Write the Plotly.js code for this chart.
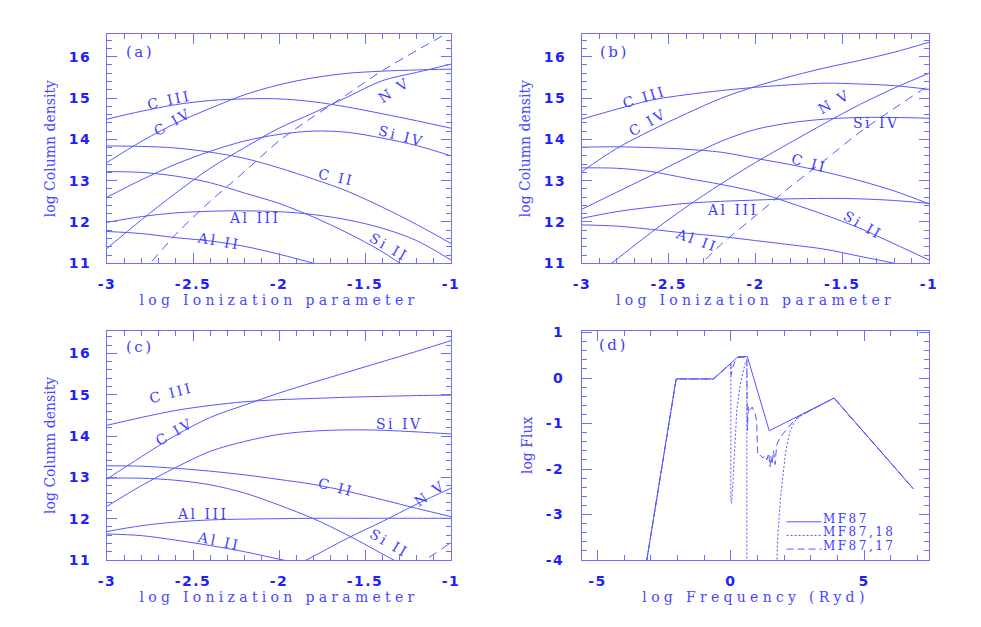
<!DOCTYPE html>
<html><head><meta charset="utf-8">
<script src="https://cdn.plot.ly/plotly-3.0.1.min.js"></script>
<style>
html,body{margin:0;padding:0;background:#fff}
#chart{width:981px;height:627px}
.xaxislayer-above text,.yaxislayer-above text{letter-spacing:1.5px}
text.xtitle,text.x2title,text.x3title,text.x4title{letter-spacing:4.3px}
.annotation-text{letter-spacing:2.5px}
</style></head><body><div id="chart"></div><script>
// ---------- data ----------
const logU = [-3,-2.8,-2.6,-2.4,-2.2,-2,-1.8,-1.6,-1.4,-1.2,-1];

// panel (a)
const a_CIII  = [14.49,14.68,14.84,14.94,14.98,14.98,14.91,14.78,14.62,14.45,14.27];
const a_CIV   = [13.44,13.95,14.39,14.75,15.08,15.32,15.49,15.60,15.65,15.68,15.70];
const a_NV    = [11.36,12.05,12.70,13.30,13.80,14.27,14.64,15.03,15.42,15.62,15.82];
const a_SiIV  = [12.60,13.02,13.40,13.71,13.96,14.12,14.20,14.17,14.03,13.85,13.60];
const a_CII   = [13.84,13.83,13.79,13.69,13.54,13.31,13.04,12.74,12.36,11.94,11.48];
const a_SiII  = [13.22,13.20,13.11,12.95,12.70,12.45,12.12,11.73,11.28,10.72,null];
const a_AlIII = [11.99,12.13,12.22,12.26,12.27,12.25,12.18,12.05,11.85,11.55,11.08];
const a_AlII  = [11.77,11.72,11.62,11.54,11.41,11.22,11.00,10.75,null,null,null];
const a_dashU = [-2.8,-2.75,-2.6,-2.4,-2.2,-2,-1.8,-1.6,-1.4,-1.2,-1];
const a_dashN = [10.8,11.0,11.7,12.5,13.22,13.96,14.55,15.1,15.66,16.15,16.62];

// panel (b)
const b_CIII  = [14.49,14.73,14.95,15.08,15.18,15.26,15.32,15.36,15.34,15.30,15.21];
const b_CIV   = [13.22,13.78,14.22,14.62,14.99,15.28,15.52,15.73,15.91,16.11,16.35];
const b_NVU   = [-2.9,-2.83,-2.6,-2.4,-2.2,-2,-1.8,-1.6,-1.4,-1.2,-1];
const b_NV    = [10.78,11.0,11.75,12.36,12.92,13.44,13.92,14.39,14.84,15.24,15.6];
const b_SiIV  = [12.31,12.72,13.13,13.55,13.95,14.24,14.40,14.49,14.53,14.53,14.51];
const b_CII   = [13.81,13.82,13.80,13.76,13.69,13.54,13.39,13.21,13.00,12.75,12.44];
const b_SiII  = [13.31,13.30,13.22,13.06,12.91,12.73,12.46,12.17,11.85,11.47,11.08];
const b_AlIII = [12.09,12.25,12.36,12.45,12.50,12.53,12.56,12.57,12.56,12.52,12.45];
const b_AlII  = [11.93,11.90,11.82,11.73,11.65,11.55,11.45,11.34,11.17,11.00,10.80];
const b_dashU = [-2.35,-2.31,-2.2,-2,-1.8,-1.6,-1.4,-1.2,-1];
const b_dashN = [10.85,11.0,11.45,12.15,12.85,13.5,14.17,14.75,15.31];

// panel (c)
const c_CIII  = [14.26,14.45,14.62,14.74,14.83,14.88,14.91,14.94,14.96,14.98,14.99];
const c_CIV   = [12.96,13.50,14.02,14.45,14.75,15.04,15.30,15.55,15.80,16.05,16.31];
const c_SiIV  = [12.30,12.80,13.24,13.63,13.87,14.04,14.12,14.15,14.14,14.10,14.05];
const c_CII   = [13.28,13.27,13.22,13.15,13.06,12.95,12.83,12.66,12.46,12.25,12.05];
const c_SiII  = [12.98,12.98,12.93,12.82,12.62,12.33,12.00,11.60,11.15,10.70,null];
const c_AlIII = [11.69,11.83,11.92,11.97,11.99,12.00,12.01,12.01,12.01,12.01,12.01];
const c_AlII  = [11.63,11.59,11.48,11.35,11.20,11.02,10.85,null,null,null,null];
const c_NVU   = [-1.9,-1.84,-1.6,-1.4,-1.2,-1];
const c_NV    = [10.87,11.0,11.53,11.93,12.35,12.74];
const c_dashU = [-1.2,-1.15,-1];
const c_dashN = [10.86,11.0,11.42];

// panel (d)
const d_MF87_x   = [-3.15,-2.05,-0.65,0.27,0.62,1.44,3.87,6.85];
const d_MF87_y   = [-4,-0.02,-0.02,0.47,0.47,-1.16,-0.44,-2.44];
const d_MF87_18x = [-3.15,-2.05,-0.65,0.0,0.0,0.03,0.08,0.14,0.22,0.35,0.54,0.6,0.6,1.7,1.75,1.85,1.95,2.05,2.2,2.4,2.65,3.87,6.85];
const d_MF87_18y = [-4,-0.02,-0.02,0.32,-2.75,-2.75,-2.3,-1.69,-0.74,-0.15,0.33,0.38,-4.6,-4.6,-3.6,-2.7,-2.1,-1.65,-1.2,-0.95,-0.82,-0.44,-2.44];
const d_MF87_17x = [-3.15,-2.05,-0.65,0.0,0.01,0.05,0.15,0.27,0.6,0.62,0.66,0.72,0.8,0.9,0.97,1.0,1.05,1.12,1.2,1.28,1.35,1.42,1.47,1.5,1.55,1.6,1.66,1.72,1.85,2.0,2.16,2.35,2.54,3.87,6.85];
const d_MF87_17y = [-4,-0.02,-0.02,0.32,0.06,0.2,0.36,0.45,0.46,-1.15,-0.62,-0.7,-0.64,-0.76,-0.95,-1.62,-1.72,-1.7,-1.76,-1.7,-1.8,-1.65,-1.95,-1.72,-1.9,-1.6,-1.9,-1.47,-1.3,-1.2,-1.1,-0.95,-0.85,-0.44,-2.44];

// labels and ticks
const ionLabels = ['C III','C IV','N V','Si IV','C II','Al III','Al II','Si II'];
const panelLabels = ['(a)','(b)','(c)','(d)'];
const legendLabels = ['MF87','MF87,18','MF87,17'];
const uTickVals = [-3,-2.5,-2,-1.5,-1];
const uTickText = ['-3','-2.5','-2','-1.5','-1'];
const nTickVals = [11,12,13,14,15,16];
const nTickText = ['11','12','13','14','15','16'];
const fTickVals = [-5,0,5];
const fTickText = ['-5','0','5'];
const lfTickVals = [-4,-3,-2,-1,0,1];
const lfTickText = ['-4','-3','-2','-1','0','1'];

// ---------- styles ----------
const LINE = '#5656ff';
const FRAME = '#6e6eff';
const TICKLBL = '#2020ff';
const TITLE = '#4848ff';
const LBL = '#3c3cff';

function tr(x, y, xa, ya, name, dash, spline){
  return {x:x, y:y, xaxis:xa, yaxis:ya, name:name, type:'scatter', mode:'lines',
    showlegend:false, hoverinfo:'skip', connectgaps:false,
    line:{color:LINE, width:1, dash:dash||'solid', shape:spline?'spline':'linear', smoothing:0.9}};
}
const DASH = '9px,6px';
const traces = [
  tr(logU,a_CIII,'x','y','C III',null,true),
  tr(logU,a_CIV,'x','y','C IV',null,true),
  tr(logU,a_NV,'x','y','N V',null,true),
  tr(logU,a_SiIV,'x','y','Si IV',null,true),
  tr(logU,a_CII,'x','y','C II',null,true),
  tr(logU,a_SiII,'x','y','Si II',null,true),
  tr(logU,a_AlIII,'x','y','Al III',null,true),
  tr(logU,a_AlII,'x','y','Al II',null,true),
  tr(a_dashU,a_dashN,'x','y','dashed',DASH,true),

  tr(logU,b_CIII,'x2','y2','C III',null,true),
  tr(logU,b_CIV,'x2','y2','C IV',null,true),
  tr(b_NVU,b_NV,'x2','y2','N V',null,true),
  tr(logU,b_SiIV,'x2','y2','Si IV',null,true),
  tr(logU,b_CII,'x2','y2','C II',null,true),
  tr(logU,b_SiII,'x2','y2','Si II',null,true),
  tr(logU,b_AlIII,'x2','y2','Al III',null,true),
  tr(logU,b_AlII,'x2','y2','Al II',null,true),
  tr(b_dashU,b_dashN,'x2','y2','dashed',DASH,true),

  tr(logU,c_CIII,'x3','y3','C III',null,true),
  tr(logU,c_CIV,'x3','y3','C IV',null,true),
  tr(c_NVU,c_NV,'x3','y3','N V',null,true),
  tr(logU,c_SiIV,'x3','y3','Si IV',null,true),
  tr(logU,c_CII,'x3','y3','C II',null,true),
  tr(logU,c_SiII,'x3','y3','Si II',null,true),
  tr(logU,c_AlIII,'x3','y3','Al III',null,true),
  tr(logU,c_AlII,'x3','y3','Al II',null,true),
  tr(c_dashU,c_dashN,'x3','y3','dashed',DASH,true),

  tr(d_MF87_x,d_MF87_y,'x4','y4',legendLabels[0],'solid',false),
  tr(d_MF87_18x,d_MF87_18y,'x4','y4',legendLabels[1],'2px,2px',false),
  tr(d_MF87_17x,d_MF87_17y,'x4','y4',legendLabels[2],'7px,4px',false)
];

const XD1 = [107/981, 451/981], XD2 = [582/981, 929/981];
const YD1 = [1-263.3/627, 1-34/627], YD2 = [1-560/627, 1-330.7/627];

function axis(opts){
  return Object.assign({
    showline:true, linecolor:FRAME, linewidth:1, mirror:'allticks',
    ticks:'inside', ticklen:10, tickwidth:1, tickcolor:FRAME,
    showgrid:false, zeroline:false, fixedrange:true, tickmode:'array',
    tickfont:{family:'DejaVu Sans', size:14, color:TICKLBL, weight:'bold'},
  }, opts);
}
function ttl(t, standoff){
  return {text:t, font:{family:'DejaVu Serif', size:14, color:TITLE}, standoff:standoff};
}
const layout = {
  width:981, height:627, margin:{l:0,r:0,t:0,b:0},
  paper_bgcolor:'#fff', plot_bgcolor:'#fff', showlegend:false,
  xaxis: axis({domain:XD1, anchor:'y', range:[-3,-1], tickvals:uTickVals, ticktext:uTickText,
    minor:{ticks:'inside', ticklen:5, tickcolor:FRAME, tick0:-3, dtick:0.1},
    ticklabelstandoff:8, title:ttl('log Ionization parameter',4)}),
  yaxis: axis({domain:YD1, anchor:'x', range:[11,16.55], tickvals:nTickVals, ticktext:nTickText,
    minor:{ticks:'inside', ticklen:5, tickcolor:FRAME, tick0:11, dtick:0.2},
    ticklabelstandoff:12, title:ttl('log Column density',12)}),
  xaxis2: axis({domain:XD2, anchor:'y2', range:[-3,-1], tickvals:uTickVals, ticktext:uTickText,
    minor:{ticks:'inside', ticklen:5, tickcolor:FRAME, tick0:-3, dtick:0.1},
    ticklabelstandoff:8, title:ttl('log Ionization parameter',4)}),
  yaxis2: axis({domain:YD1, anchor:'x2', range:[11,16.55], tickvals:nTickVals, ticktext:nTickText,
    minor:{ticks:'inside', ticklen:5, tickcolor:FRAME, tick0:11, dtick:0.2},
    ticklabelstandoff:12, title:ttl('log Column density',12)}),
  xaxis3: axis({domain:XD1, anchor:'y3', range:[-3,-1], tickvals:uTickVals, ticktext:uTickText,
    minor:{ticks:'inside', ticklen:5, tickcolor:FRAME, tick0:-3, dtick:0.1},
    ticklabelstandoff:8, title:ttl('log Ionization parameter',4)}),
  yaxis3: axis({domain:YD2, anchor:'x3', range:[11,16.55], tickvals:nTickVals, ticktext:nTickText,
    minor:{ticks:'inside', ticklen:5, tickcolor:FRAME, tick0:11, dtick:0.2},
    ticklabelstandoff:12, title:ttl('log Column density',12)}),
  xaxis4: axis({domain:XD2, anchor:'y4', range:[-5.58,7.43], tickvals:fTickVals, ticktext:fTickText,
    minor:{ticks:'inside', ticklen:5, tickcolor:FRAME, tick0:-5, dtick:1},
    ticklabelstandoff:8, title:ttl('log Frequency (Ryd)',4)}),
  yaxis4: axis({domain:YD2, anchor:'x4', range:[-4,1.04], tickvals:lfTickVals, ticktext:lfTickText,
    minor:{ticks:'inside', ticklen:5, tickcolor:FRAME, tick0:-4, dtick:0.2},
    ticklabelstandoff:14, title:ttl('log Flux',12)}),
  annotations:[], shapes:[]
};

// curve labels: [text index, x, y, angle]
const labelPlaces = {
  a:[[0,-2.64,14.95,-12],[1,-2.62,14.43,-30],[2,-1.33,15.2,-33],[3,-1.29,14.08,15],
     [4,-1.67,13.08,12],[5,-2.14,12.09,0],[6,-2.35,11.55,10],[7,-1.36,11.4,30]],
  b:[[0,-2.64,15.03,-17],[1,-2.62,14.43,-30],[2,-1.55,14.91,-30],[3,-1.30,14.39,0],
     [4,-1.69,13.42,15],[5,-2.13,12.29,0],[6,-2.34,11.56,20],[7,-1.38,11.93,30]],
  c:[[0,-2.63,15.04,-15],[1,-2.61,14.1,-30],[2,-1.12,12.61,-35],[3,-1.30,14.29,0],
     [4,-1.67,12.77,15],[5,-2.44,12.11,0],[6,-2.35,11.47,12],[7,-1.36,11.4,30]]
};
const refs = {a:['x','y'], b:['x2','y2'], c:['x3','y3']};
Object.keys(labelPlaces).forEach(k => {
  labelPlaces[k].forEach(p => {
    layout.annotations.push({text:ionLabels[p[0]], x:p[1], y:p[2], xref:refs[k][0], yref:refs[k][1],
      textangle:p[3], showarrow:false, xanchor:'center', yanchor:'middle',
      font:{family:'DejaVu Serif', size:14, color:LBL}});
  });
});
// panel tags
[['x','y',-2.81,16.12],['x2','y2',-2.81,16.12],['x3','y3',-2.81,16.15],['x4','y4',-4.41,0.73]].forEach((p,i)=>{
  layout.annotations.push({text:panelLabels[i], x:p[2], y:p[3], xref:p[0], yref:p[1], showarrow:false,
    xanchor:'center', yanchor:'middle', font:{family:'DejaVu Serif', size:15, color:LBL}});
});
// legend of panel (d)
const legDash = ['solid','2px,2px','7px,4px'];
const legY = [-3.16,-3.46,-3.76];
legendLabels.forEach((t,i)=>{
  layout.shapes.push({type:'line', xref:'x4', yref:'y4', x0:2.09, x1:3.40, y0:legY[i], y1:legY[i],
    line:{color:LINE, width:1, dash:legDash[i]}});
  layout.annotations.push({text:t, x:3.43, y:legY[i]+0.07, xref:'x4', yref:'y4', showarrow:false,
    xanchor:'left', yanchor:'middle', borderpad:0,
    font:{family:'DejaVu Serif', size:12, color:LBL}});
});

Plotly.newPlot('chart', traces, layout, {staticPlot:true, displayModeBar:false});
</script></body></html>
